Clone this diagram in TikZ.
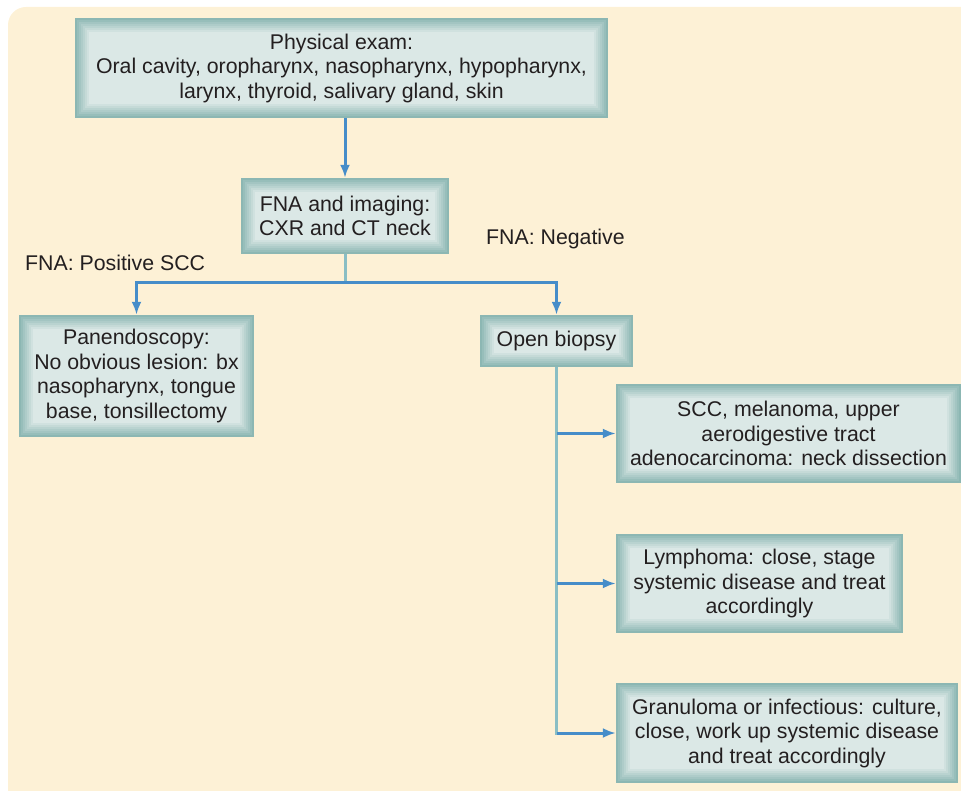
\documentclass[tikz,border=0pt]{standalone}
\usepackage{fontspec}
\setmainfont{Liberation Sans}
\usepackage{tikz}
\usetikzlibrary{positioning,arrows.meta}
\definecolor{bgcream}{RGB}{253,241,214}
\definecolor{boxedge}{RGB}{140,183,179}
\definecolor{boxface}{RGB}{221,233,231}
\definecolor{linkblue}{RGB}{70,141,201}
\definecolor{stemteal}{RGB}{138,190,196}
\definecolor{txt}{RGB}{35,31,32}
\tikzset{
  bevel/.style={path picture={
    \foreach \k in {1,...,7}{
      \pgfmathtruncatemacro\mixval{\k*14}
      \fill[boxface!\mixval!boxedge]
        ([shift={(\k*2pt,-\k*2pt)}]path picture bounding box.north west) rectangle
        ([shift={(-\k*2pt,\k*2pt)}]path picture bounding box.south east);
    }}},
  box/.style={fill=boxedge, bevel, align=center, inner sep=0pt, text=txt},
  lbl/.style={anchor=west, inner sep=0pt, text=txt},
  stem/.style={draw=stemteal, line width=3pt},
  link/.style={draw=linkblue, line width=3pt, -{Latex[length=13pt,width=10pt]}}
}

\begin{document}
\begin{tikzpicture}[x=1pt,y=-1pt,on grid,font=\fontsize{21.3}{24.5}\selectfont]
	\useasboundingbox (0,0) rectangle (961,791);
	\fill[bgcream, rounded corners=18pt] (8,7) rectangle (990,820);

	\node[box, minimum width=533pt, minimum height=100pt] (exam) at (341.5,68)
		{Physical exam:\\Oral cavity, oropharynx, nasopharynx, hypopharynx,\\larynx, thyroid, salivary gland, skin};
	\node[box, minimum width=208pt, minimum height=76pt] (fna) [below right=148pt and 3.5pt of exam]
		{FNA and imaging:\\CXR and CT neck};
	\node[box, minimum width=235pt, minimum height=122pt] (pan) [below left=160pt and 208.5pt of fna]
		{Panendoscopy:\\No obvious lesion: bx\\nasopharynx, tongue\\base, tonsillectomy};
	\node[box, minimum width=153pt, minimum height=52pt] (open) [below right=125pt and 211.5pt of fna]
		{Open biopsy};
	\node[box, minimum width=345pt, minimum height=99pt] (scc) [below right=92.5pt and 232pt of open]
		{SCC, melanoma, upper\\aerodigestive tract\\adenocarcinoma: neck dissection};
	\node[box, minimum width=287pt, minimum height=99pt] (lymph) [below right=242.5pt and 203pt of open]
		{Lymphoma: close, stage\\systemic disease and treat\\accordingly};
	\node[box, minimum width=342pt, minimum height=100pt] (gran) [below right=392pt and 230.5pt of open]
		{Granuloma or infectious: culture,\\close, work up systemic disease\\and treat accordingly};

	\node[lbl] (pos) at (25,263) {FNA: Positive SCC};
	\node[lbl] (neg) at (486,239) {FNA: Negative};

	% top to FNA
	\draw[link] (fna.north |- exam.south) -- (fna);
	% split into the two branches
	\draw[stem] (fna.south) -- ++(0,28) coordinate (split);
	\draw[link] (split) -| (pan.north);
	\draw[link] (split) -| (open.north);
	% results of the open biopsy
	\draw[stem] (open.south) -- ([yshift=-1.5pt]open.south |- gran.west);
	\draw[link] (open.south |- scc.west) -- (scc.west);
	\draw[link] (open.south |- lymph.west) -- (lymph.west);
	\draw[link] (open.south |- gran.west) -- (gran.west);
\end{tikzpicture}
\end{document}
